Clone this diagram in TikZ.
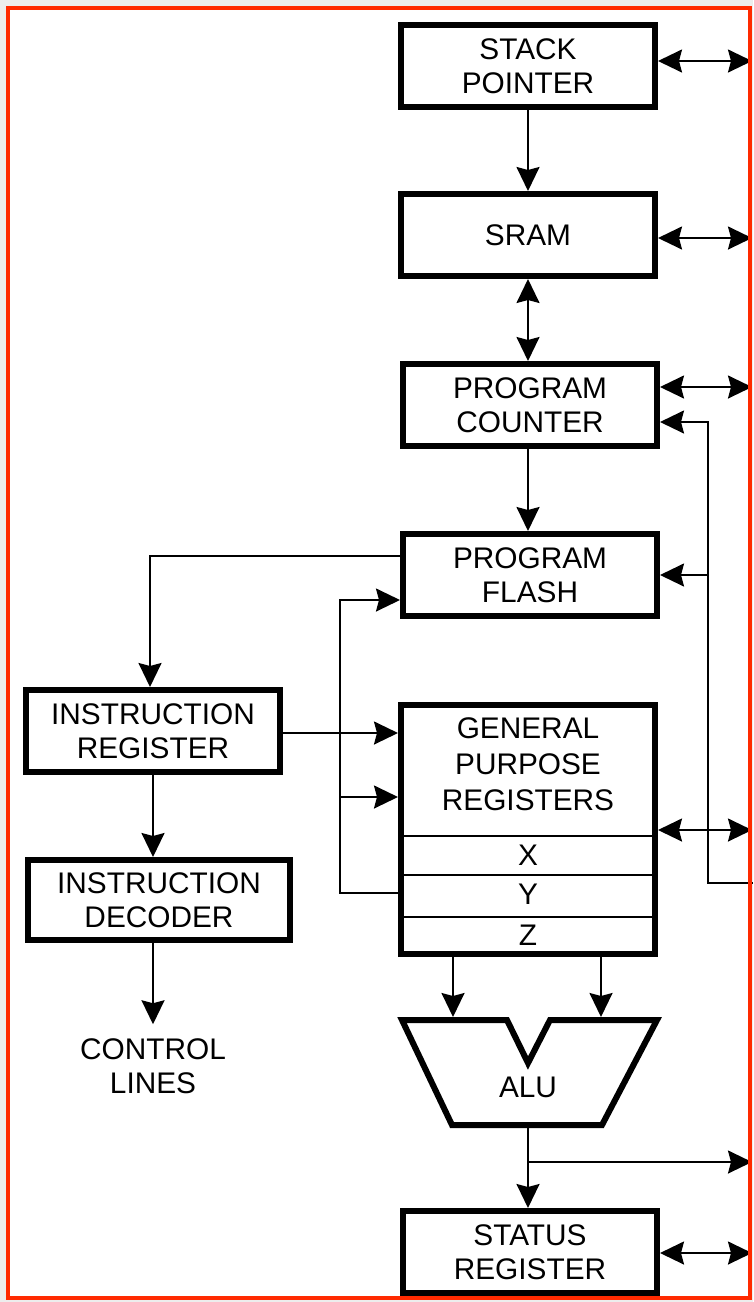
\documentclass[tikz,border=0pt]{standalone}
\usepackage{fontspec}
\setmainfont{Liberation Sans}
\usetikzlibrary{arrows.meta}
\definecolor{bord}{HTML}{FF2A00}
\begin{document}
\begin{tikzpicture}[x=1pt,y=-1pt,
  blk/.style={draw, line width=6pt, minimum width=254pt, minimum height=82pt, align=center, inner sep=0pt, font=\fontsize{29.8}{34}\selectfont},
  tip/.tip={Stealth[length=24pt,width=23pt,inset=3pt]},
  conn/.style={line width=2pt, -tip},
  dconn/.style={line width=2pt, tip-tip},
  thin/.style={line width=1.8pt},
  lbl/.style={align=center, inner sep=0pt, font=\fontsize{29.8}{34}\selectfont}]
\useasboundingbox (0,0) rectangle (753,1302);
\fill[black!7] (0,0) rectangle (753,1302);
\fill[white] (8,8) rectangle (750,1298);

% blocks
\node[blk] (sp) at (528,66) {STACK\\POINTER};
\node[blk] (sram) at (528,235) {SRAM};
\node[blk] (pc) at (530,405) {PROGRAM\\COUNTER};
\node[blk] (flash) at (530,575) {PROGRAM\\FLASH};
\node[blk, minimum height=249pt] (gpr) at (528,829.5) {};
\node[lbl, font=\fontsize{29.8}{36}\selectfont] (gprt) at (528,764) {GENERAL\\PURPOSE\\REGISTERS};
\draw[thin] (gpr.west |- 0,836) -- (gpr.east |- 0,836);
\draw[thin] (gpr.west |- 0,875) -- (gpr.east |- 0,875);
\draw[thin] (gpr.west |- 0,917) -- (gpr.east |- 0,917);
\node[lbl] (rx) at (528,855) {X};
\node[lbl] (ry) at (528,894) {Y};
\node[lbl] (rz) at (528,935) {Z};
\node[blk] (st) at (530,1252) {STATUS\\REGISTER};
\node[blk] (ir) at (153,731) {INSTRUCTION\\REGISTER};
\node[blk, minimum width=262pt, minimum height=80pt] (id) at (159,900) {INSTRUCTION\\DECODER};
\node[lbl] (ctl) at (153,1066) {CONTROL\\LINES};

% ALU
\draw[line width=6pt, line join=miter] (402,1020) -- (507,1020) -- (528,1063) -- (550,1020) -- (657,1020) -- (602,1125) -- (452,1125) -- cycle;
\node[lbl] (alu) at (528,1087) {ALU};
\coordinate (aluL) at (453,1017);
\coordinate (aluR) at (601,1017);
\coordinate (aluO) at (528,1128);

% vertical chain
\draw[conn] (sp) -- (sram);
\draw[dconn] (sram) -- (sram |- pc.north);
\draw[conn] (pc.south -| sram) -- (flash.north -| sram);

% right-side bus arrows
\coordinate (e1) at (752,61);
\coordinate (e2) at (752,238);
\coordinate (e3) at (752,387);
\coordinate (e4) at (752,830);
\coordinate (e5) at (752,1253);
\draw[dconn] (sp.east |- e1) -- (e1);
\draw[dconn] (sram.east |- e2) -- (e2);
\draw[dconn] (pc.east |- e3) -- (e3);
\draw[dconn] (gpr.east |- e4) -- (e4);
\draw[dconn] (st.east |- e5) -- (e5);

% incoming bus to PC and FLASH
\coordinate (bin) at (753,883);
\coordinate (b1) at (708,883);
\coordinate (b2) at (708,422);
\coordinate (b3) at (708,575);
\draw[conn] (bin) -- (b1) -- (b2) -- (pc.east |- b2);
\draw[conn] (b3) -- (flash.east |- b3);

% flash -> instruction register
\coordinate (f1) at (150,556);
\draw[conn] (flash.west |- f1) -- (f1) -- (f1 |- ir.north);

% IR -> GPR
\draw[conn] (ir.east |- 0,733) -- (gpr.west |- 0,733);

% Y -> flash, GPR
\coordinate (y1) at (340,893);
\coordinate (y2) at (340,600);
\coordinate (y3) at (340,797);
\draw[conn] (gpr.west |- y1) -- (y1) -- (y2) -- (flash.west |- y2);
\draw[conn] (y3) -- (gpr.west |- y3);

% IR -> ID -> control lines
\draw[conn] (ir.south) -- (ir.south |- id.north);
\draw[conn, shorten >=14pt] (ir.south |- id.south) -- (ir.south |- ctl.north);

% GPR -> ALU
\draw[conn] (gpr.south -| aluL) -- (aluL);
\draw[conn] (gpr.south -| aluR) -- (aluR);

% ALU -> status, ALU -> bus
\draw[conn] (aluO) -- (aluO |- st.north);
\coordinate (o1) at (528,1162);
\coordinate (o2) at (752,1162);
\draw[conn] (o1) -- (o2);

% frame
\draw[bord, line width=4pt] (8,8) rectangle (750,1298);
\end{tikzpicture}
\end{document}
